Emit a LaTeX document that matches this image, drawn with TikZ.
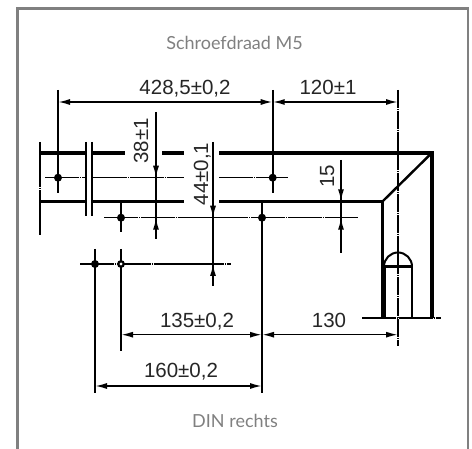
\documentclass[tikz,border=0pt]{standalone}
\usepackage{fontspec}
\setmainfont{Liberation Sans}
\newfontfamily\lightfont{Lato}
\usetikzlibrary{arrows.meta}
\tikzset{
 x=1pt,y=-1pt,
 thin line/.style={line width=1.6pt,black},
 heavy/.style={line width=4pt,black},
 medium/.style={line width=3pt,black},
 center line/.style={line width=1.6pt,black,dash pattern=on 34pt off .8pt on 1.2pt off .8pt},
 dim/.style={line width=1.6pt,black,{Latex[length=12pt,width=6pt]}-{Latex[length=12pt,width=6pt]}},
 tip end/.style={line width=1.6pt,black,-{Latex[length=12pt,width=6pt]}},
 val/.style={font=\fontsize{20.5}{22}\selectfont,text=black!85,inner sep=0pt,anchor=base},
 caption text/.style={font=\lightfont\fontsize{18}{20}\selectfont,text=black!50,inner sep=0pt},
 hole/.style={circle,fill=black,inner sep=0pt,minimum size=8pt},
 ring/.style={circle,draw=black,fill=white,line width=2.2pt,inner sep=0pt,minimum size=5.5pt},
}
\begin{document}
\begin{tikzpicture}
\useasboundingbox (0,0) rectangle (472,449);
\fill[white] (0,0) rectangle (472,449);
\coordinate (fa) at (17.5,449); \coordinate (fb) at (17.5,8.5);
\coordinate (fc) at (468,8.5); \coordinate (fd) at (468,449);
\draw[line width=2.3pt,black!50] (fa)--(fb)--(fc)--(fd);
\node[caption text] (t1) at (234.5,43) {Schroefdraad M5};
\node[caption text] (t2) at (235,421) {DIN rechts};
% heavy lines
\coordinate (tr) at (431.7,153); \coordinate (br) at (382.7,201.3);
\coordinate (trb) at (431.7,318); \coordinate (brb) at (382.7,318);
\draw[heavy] (40,153)--(87,153) (92,153)--(125,153) (162,153)--(184,153);
\draw[heavy,line join=miter] (219,153)--(tr)--(trb);
\draw[medium] (40,201.3)--(85,201.3) (92,201.3)--(184,201.3);
\draw[medium] (219,201.3)--(br)--(brb);
\draw[line width=2.4pt] (tr)--(br);
% thread
\coordinate (ta) at (385,266.5); \coordinate (tb) at (412,266.5);
\draw[line width=2.6pt] (412,318)--(tb)--(ta)--(385,318);
\draw[line width=2pt] (384,266.5) arc[start angle=180,end angle=360,radius=14];
% break lines
\draw[line width=1.8pt,dash pattern=on 45pt off 1pt on 1pt off 1pt] (40,142)--(40,235);
\draw[line width=2pt] (86,142)--(86,216) (92,142)--(92,216);
% centre lines
\draw[center line] (45,177.7)--(85,177.7) (93,177.7)--(184,177.7) (219,177.7)--(288,177.7);
\draw[center line] (104,217.7)--(358,217.7);
\draw[center line] (80,264)--(231,264);
\draw[center line] (362,318)--(441,318);
\draw[center line,dash pattern=on 18pt off .8pt on 1.2pt off .8pt] (398,90)--(398,345.7);
% extension lines
\draw[thin line] (58,90)--(58,193);
\draw[thin line] (272.7,90)--(272.7,192.7);
\draw[thin line] (121,201)--(121,232) (121,249)--(121,350.7);
\draw[thin line] (262,201)--(262,393);
\draw[thin line] (95,249)--(95,393);
% points
\node[hole] (p1) at (58,177.7) {};
\node[hole] (p2) at (272.7,177.7) {};
\node[hole] (p3) at (121,217.7) {};
\node[hole] (p4) at (262,217.7) {};
\node[hole] (p5) at (95,264) {};
\node[ring] (p6) at (121,264) {};
% dimensions
\coordinate (dimr) at (398,102);
\coordinate (dimq) at (398,334.7);
\draw[dim] (58,102)--(272.7,102);
\draw[dim] (272.7,102)--(dimr);
\draw[dim] (121,334.7)--(262,334.7);
\draw[dim] (262,334.7)--(dimq);
\draw[dim] (95,386)--(262,386);
\draw[tip end] (156,112)--(156,177.7);
\draw[tip end] (156,239)--(156,217.7);
\draw[thin line] (156,172)--(156,223);
\draw[tip end] (213,142)--(213,217.7);
\draw[tip end] (213,285.7)--(213,264);
\draw[thin line] (213,212)--(213,270);
\draw[tip end] (341,160)--(341,201.3);
\draw[tip end] (341,253)--(341,217.7);
\draw[thin line] (341,196)--(341,223);
\node[val] (d1) at (185,95) {428,5±0,2};
\node[val] (d2) at (328,95) {120±1};
\node[val] (d3) at (197,328) {135±0,2};
\node[val] (d4) at (329,328) {130};
\node[val] (d5) at (181,378) {160±0,2};
\node[val,rotate=90] (d6) at (148,141) {38±1};
\node[val,rotate=90] (d7) at (208,174) {44±0,1};
\node[val,rotate=90] (d8) at (334,176) {15};
\end{tikzpicture}
\end{document}
